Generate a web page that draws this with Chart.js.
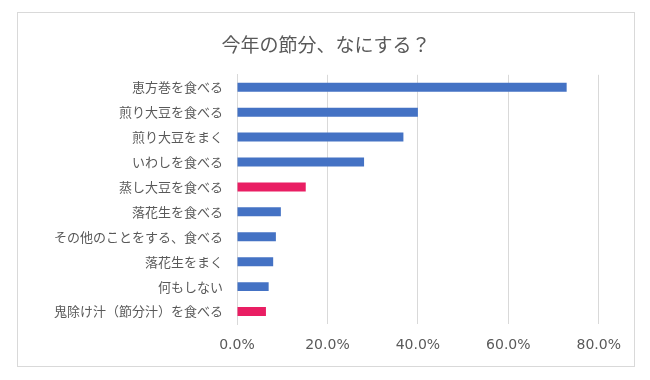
<!DOCTYPE html>
<html>
<head>
<meta charset="utf-8">
<script src="https://cdn.jsdelivr.net/npm/chart.js@4"></script>
<style>
  html, body { margin: 0; padding: 0; background: #fff; }
  #box {
    position: absolute; left: 17px; top: 12px;
    width: 616px; height: 353px;
    border: 1px solid #d9d9d9;
  }
</style>
</head>
<body>
<div id="box"><canvas id="chart" width="616" height="353"></canvas></div>
<script>
const categories = [
    '恵方巻を食べる',
    '煎り大豆を食べる',
    '煎り大豆をまく',
    'いわしを食べる',
    '蒸し大豆を食べる',
    '落花生を食べる',
    'その他のことをする、食べる',
    '落花生をまく',
    '何もしない',
    '鬼除け汁（節分汁）を食べる'
];
const shares = [72.9, 40.0, 36.8, 28.1, 15.2, 9.7, 8.6, 8.0, 7.0, 6.4];
const highlighted = ['蒸し大豆を食べる', '鬼除け汁（節分汁）を食べる'];
const xTicks = [0, 20, 40, 60, 80];

const barColors = categories.map(c => highlighted.includes(c) ? '#E91E63' : '#4472C4');

const ctx = document.getElementById('chart').getContext('2d');
new Chart(ctx, {
    type: 'bar',
    data: {
        labels: categories,
        datasets: [{
            label: '今年の節分、なにする？',
            data: shares,
            backgroundColor: barColors,
            borderWidth: 0,
            barPercentage: 0.36,
            categoryPercentage: 1.0,
        }]
    },
    options: {
        indexAxis: 'y',
        responsive: false,
        animation: false,
        layout: { padding: 0 },
        plugins: {
            legend: { display: false },
            tooltip: { enabled: false },
            title: {
                display: true,
                text: '今年の節分、なにする？',
                color: '#595959',
                font: { family: '"Noto Sans CJK JP", sans-serif', size: 19, weight: 'normal', lineHeight: 1.2 },
                padding: { top: 20, bottom: 19 }
            }
        },
        scales: {
            x: {
                min: 0,
                max: 80,
                afterBuildTicks: axis => { axis.ticks = xTicks.map(v => ({ value: v })); },
                afterFit: axis => { axis.height = 42; },
                grid: { color: '#d9d9d9', lineWidth: 1, drawTicks: false },
                border: { display: false },
                ticks: {
                    padding: 13,
                    color: '#595959',
                    font: { family: '"DejaVu Sans", sans-serif', size: 14 },
                    callback: v => v.toFixed(1) + '%'
                }
            },
            y: {
                afterFit: axis => { axis.width = 219; },
                grid: { display: false, drawTicks: false },
                border: { display: true, color: '#d9d9d9', width: 1 },
                ticks: {
                    padding: 14,
                    color: '#595959',
                    font: { family: '"Noto Sans CJK JP", sans-serif', size: 13 }
                }
            },
            // empty right-hand spacer so the plot ends at 80% while the title stays centred
            spacer: {
                type: 'category',
                axis: 'y',
                position: 'right',
                afterFit: axis => { axis.width = 34; },
                grid: { display: false, drawTicks: false },
                border: { display: false },
                ticks: { display: false }
            }
        }
    }
});
</script>
</body>
</html>
